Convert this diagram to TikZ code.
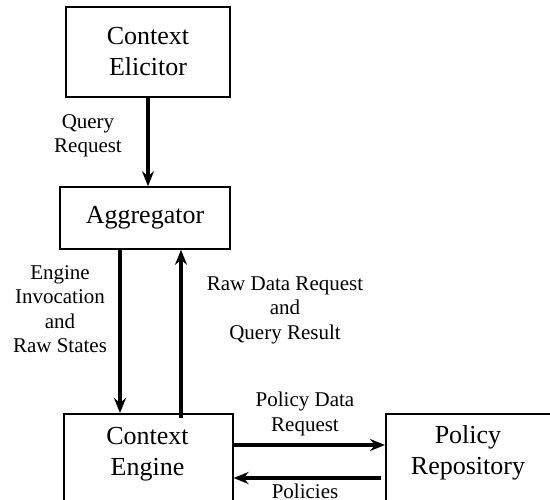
\documentclass[tikz,border=0pt]{standalone}
\usepackage{fontspec}
\setmainfont{Liberation Serif}
\usetikzlibrary{arrows.meta}
\begin{document}
\begin{tikzpicture}[x=1pt,y=-1pt,
  box/.style={draw, line width=1.6pt, inner sep=0pt},
  big/.style={align=center, font=\fontsize{26}{31}\selectfont, inner sep=0pt},
  lbl/.style={align=center, font=\fontsize{21}{24.5}\selectfont, inner sep=0pt},
  arr/.style={line width=3.3pt, -{Stealth[length=15pt, width=12pt, inset=5pt]}}]
\useasboundingbox (0,0) rectangle (550,500);
\clip (0,0) rectangle (550,500);
% boxes
\node[box, big, minimum width=164pt, minimum height=90pt] (elic) at (148,52) {Context\\Elicitor};
\node[box, big, minimum width=170pt, minimum height=62pt] (agg) at (145,218) {Aggregator};
\node[box, anchor=north west, minimum width=169pt, minimum height=120pt] (eng) at (63,413) {};
\node[big] (engtxt) at (147.5,454) {Context\\Engine};
\node[box, anchor=north west, minimum width=200pt, minimum height=120pt] (repo) at (385,413) {};
\node[big] (repotxt) at (468,453) {Policy\\Repository};
% connectors
\draw[arr] (elic.south) -- (elic.south |- agg.north);
\draw[arr] ([xshift=-25pt]agg.south) -- ([xshift=-25pt]agg.south |- eng.north);
\draw[arr] ([xshift=36pt,yshift=-5pt]agg.south |- eng.north) -- ([xshift=36pt]agg.south);
\draw[arr] ([yshift=-32pt]eng.north east) -- ([yshift=-32pt]repo.north west);
\draw[arr] ([xshift=-4pt,yshift=-65pt]repo.north west) -- ([yshift=-65pt]eng.north east);
% labels
\node[lbl] (l1) at (88,136) {Query\\Request};
\node[lbl] (l2) at (60,309) {Engine\\Invocation\\and\\Raw States};
\node[lbl] (l3) at (285,310) {Raw Data Request\\and\\Query Result};
\node[lbl] (l4) at (305,414) {Policy Data\\Request};
\node[lbl, anchor=base] (l5) at (305,498.5) {Policies};
\end{tikzpicture}
\end{document}
